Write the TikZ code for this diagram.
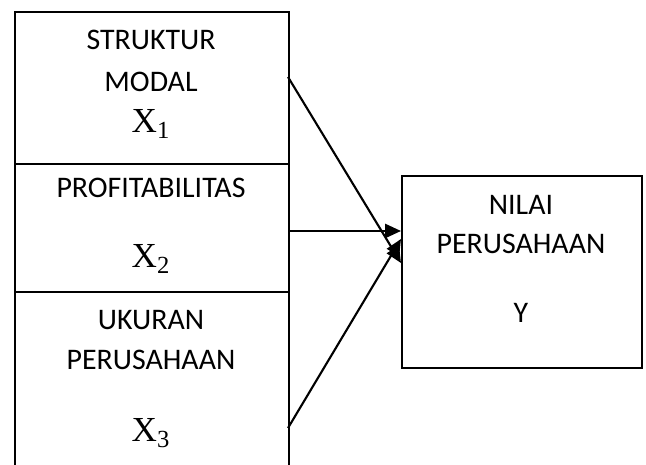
\documentclass[tikz,border=0pt]{standalone}
\usepackage{fontspec}
\setmainfont{Carlito}
\newfontfamily\varfont{Liberation Serif}
\usetikzlibrary{
    arrows.meta,
    calc,
    positioning
}
\tikzset{vbox/.style={draw=black, line width=1pt, inner sep=0pt, anchor=north west},
         lbl/.style={font=\fontsize{17}{20}\selectfont, anchor=base, inner sep=0pt},
         var/.style={font=\varfont\fontsize{20}{24}\selectfont, anchor=base, inner sep=0pt},
         arr/.style={line width=1.2pt, -{Triangle[length=9pt, width=8pt]}}}

\begin{document}
\begin{tikzpicture}[x=0.02cm, y=-0.02cm]
    \useasboundingbox (0,0) rectangle (646,465);
    \clip (0,0) rectangle (646,465);
    % variabel bebas
    \node[vbox, minimum width=5.48cm, minimum height=3.04cm] (modal) at (14,11) {};
    \node[vbox, minimum width=5.48cm, minimum height=2.56cm] (profit) at (14,163) {};
    \node[vbox, minimum width=5.48cm, minimum height=3.9cm] (ukuran) at (14,291) {};
    \node[lbl] (m1) at (151,50) {STRUKTUR};
    \node[lbl] (m2) at (151,92) {MODAL};
    \node[var] (x1) at (151,133) {X\textsubscript{1}};
    \node[lbl] (p1) at (151,198) {PROFITABILITAS};
    \node[var] (x2) at (151,268) {X\textsubscript{2}};
    \node[lbl] (u1) at (151,330) {UKURAN};
    \node[lbl] (u2) at (151,370) {PERUSAHAAN};
    \node[var] (x3) at (151,442) {X\textsubscript{3}};
    % variabel terikat
    \node[vbox, minimum width=4.8cm, minimum height=3.84cm] (nilai) at (401,175) {};
    \node[lbl] (n1) at (521,215) {NILAI};
    \node[lbl] (n2) at (521,254) {PERUSAHAAN};
    \node[lbl] (y) at (521,323) {Y};
    % panah
    \coordinate (s1) at (288,77);
    \coordinate (s2) at (288,231);
    \coordinate (s3) at (288,428);
    \coordinate (e1) at (401,263);
    \coordinate (e2) at (401,231);
    \coordinate (e3) at (401,239);
    \draw[arr] (s1) -- (e1);
    \draw[arr] (s2) -- (e2);
    \draw[arr] (s3) -- (e3);
\end{tikzpicture}
\end{document}
